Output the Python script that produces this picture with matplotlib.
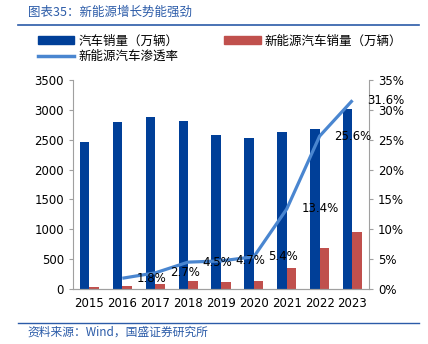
import numpy as np
import matplotlib
matplotlib.use('Agg')
import matplotlib.pyplot as plt
from matplotlib.patches import Patch
from matplotlib.lines import Line2D
from matplotlib.ticker import FuncFormatter

plt.rcParams['font.family'] = ['DejaVu Sans', 'Noto Sans CJK SC']

YEARS = ['2015', '2016', '2017', '2018', '2019', '2020', '2021', '2022', '2023']
CAR_SALES = [2460, 2803, 2888, 2808, 2577, 2531, 2627, 2686, 3009]  # 万辆
NEV_SALES = [33, 51, 77, 126, 121, 137, 352, 689, 950]  # 万辆
RATE_YEARS = ['2016', '2017', '2018', '2019', '2020', '2021', '2022', '2023']
NEV_RATE = [1.8, 2.7, 4.5, 4.7, 5.4, 13.4, 25.6, 31.6]  # %

BLUE = '#003f98'
RED = '#c0504d'
LINE_COL = '#4a86d0'
TITLE_COL = '#2b5ba8'
CJK = ['Noto Sans CJK SC', 'DejaVu Sans']

fig = plt.figure(figsize=(4.28, 3.44), dpi=100)
ax = fig.add_axes([0.1706, 0.1599, 0.862 - 0.1706, 0.7674 - 0.1599])
ax2 = ax.twinx()

x = np.arange(len(YEARS))
w = 0.29
ax.bar(x - w / 2, CAR_SALES, w, color=BLUE, zorder=2)
ax.bar(x + w / 2, NEV_SALES, w, color=RED, zorder=2)
ax.set_xlim(-0.5, len(YEARS) - 0.5)
ax.set_ylim(0, 3500)
ax.set_yticks(range(0, 3501, 500))
ax.set_xticks(x)
ax.set_xticklabels(YEARS)

xr = [YEARS.index(y) for y in RATE_YEARS]
ax2.plot(xr, NEV_RATE, color=LINE_COL, lw=2.3, solid_capstyle='butt', zorder=3)
ax2.set_ylim(0, 35)
ax2.set_yticks(range(0, 36, 5))
ax2.yaxis.set_major_formatter(FuncFormatter(lambda v, p: '%d%%' % v))
for xi, v in zip(xr, NEV_RATE):
    ax2.annotate('%.1f%%' % v, (xi, v), xytext=(10.5, 0), textcoords='offset points',
                 ha='left', va='center', fontsize=8.5, color='black')

for a in (ax, ax2):
    a.spines['top'].set_visible(False)
    for s in ('left', 'right', 'bottom'):
        a.spines[s].set_color('#a0a0a0')
    a.tick_params(axis='y', colors='#a0a0a0', labelcolor='black', labelsize=8.5, length=3)
ax.tick_params(axis='x', length=0, labelsize=8.5, pad=6)
ax2.spines['left'].set_visible(False)
ax.spines['right'].set_visible(False)

handles = [Patch(color=BLUE), Line2D([], [], color=LINE_COL, lw=2.5), Patch(color=RED)]
labels = ['汽车销量（万辆）', '新能源汽车渗透率', '新能源汽车销量（万辆）']
fig.legend(handles, labels, loc='upper left', bbox_to_anchor=(0.089, 0.9), ncol=2,
           frameon=False, prop={'family': CJK, 'size': 9}, handlelength=2.9,
           handleheight=0.55, columnspacing=3.7, labelspacing=0.2, handletextpad=0.3,
           borderpad=0, borderaxespad=0)

fig.text(0.065, 0.965, '图表35：新能源增长势能强劲', family=CJK, fontsize=9,
         color=TITLE_COL, style='italic', va='center')
fig.add_artist(Line2D([0.042, 0.98], [0.928, 0.928], color=TITLE_COL, lw=1.2))
fig.add_artist(Line2D([0.042, 0.98], [0.061, 0.061], color=TITLE_COL, lw=1.0))
fig.text(0.065, 0.035, '资料来源：Wind，国盛证券研究所', family=CJK, fontsize=8.5,
         color=TITLE_COL, style='italic', va='center')

fig.savefig('out.png', dpi=100)
